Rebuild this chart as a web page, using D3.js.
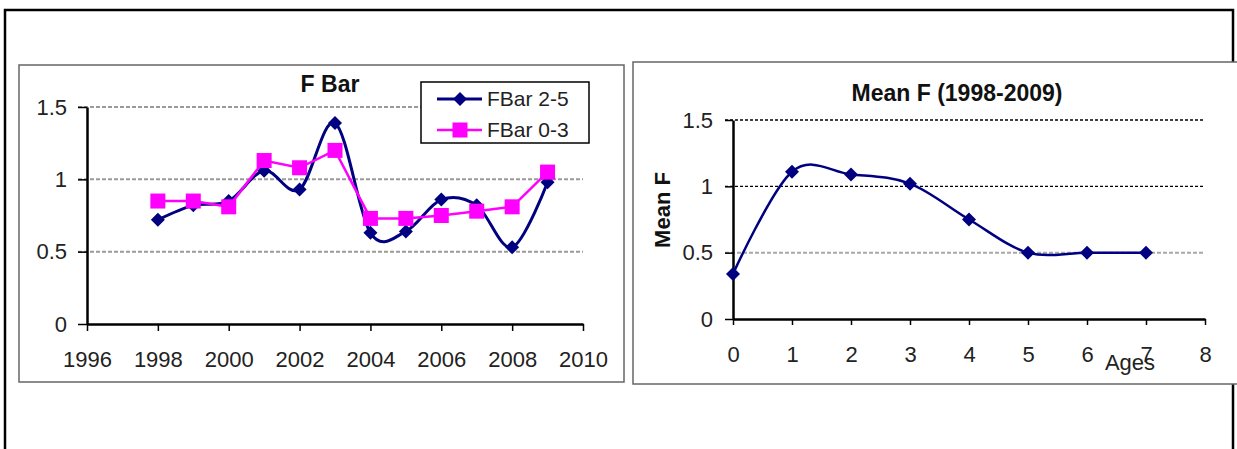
<!DOCTYPE html>
<html lang="en">
<head>
	<meta charset="UTF-8">
	<title>F Bar / Mean F</title>
	<script src="https://cdn.jsdelivr.net/npm/d3@7/dist/d3.min.js"></script>
	<style>
		html,body{
			margin:0;
			padding:0;
			background:#fff;
		}
		svg{
			display:block;
			font-family:"Liberation Sans", Arial, sans-serif;
		}
		.tick text{
			font-size:22px;
			fill:#222;
		}
		.domain{
			stroke:#000;
			stroke-width:2.5;
		}
		.tick line{
			stroke:#000;
			stroke-width:1.5;
		}
	</style>
</head>
<body>
	<svg id="svg" width="1237" height="449"></svg>
	<script>
		// values
		var years = [1998, 1999, 2000, 2001, 2002, 2003, 2004, 2005, 2006, 2007, 2008, 2009];
		var fbar25 = [0.72, 0.82, 0.85, 1.06, 0.93, 1.39, 0.63, 0.64, 0.86, 0.82, 0.53, 0.98];
		var fbar03 = [0.85, 0.85, 0.81, 1.13, 1.08, 1.20, 0.73, 0.73, 0.75, 0.78, 0.81, 1.05];
		var yearTicks = [1996, 1998, 2000, 2002, 2004, 2006, 2008, 2010];

		var ages = [0, 1, 2, 3, 4, 5, 6, 7];
		var meanF = [0.34, 1.11, 1.09, 1.02, 0.75, 0.50, 0.50, 0.50];
		var ageTicks = [0, 1, 2, 3, 4, 5, 6, 7, 8];

		var fTicks = [0, 0.5, 1, 1.5];
		var legendNames = ["FBar 2-5", "FBar 0-3"];

		window.onload = ()=>{
			var svg = d3.select("svg");
			var navy = "#000080", pink = "#ff00ff";
			var diamond = "M0,-7L7,0L0,7L-7,0Z";

			// outer frame and the two chart boxes
			svg.append("rect")
				.attr("x",5).attr("y",10).attr("width",1228).attr("height",460)
				.attr("fill","none").attr("stroke","#000").attr("stroke-width",2.5);
			svg.append("rect")
				.attr("x",19).attr("y",65).attr("width",605).attr("height",317)
				.attr("fill","#fff").attr("stroke","#666").attr("stroke-width",1.5);
			svg.append("rect")
				.attr("x",633).attr("y",62).attr("width",620).attr("height",322)
				.attr("fill","#fff").attr("stroke","#666").attr("stroke-width",1.5);

			/* ---------- left: F Bar ---------- */
			var x1 = d3.scaleLinear().domain([1996,2010]).range([87,583]),
				y1 = d3.scaleLinear().domain([0,1.5]).range([324,107]);

			var g1 = svg.append("g");

			g1.selectAll(".grid")
				.data(fTicks.filter(d=>d>0))
				.enter().append("line")
				.attr("x1",78).attr("x2",583)
				.attr("y1",d=>y1(d)).attr("y2",d=>y1(d))
				.attr("stroke","#9a9a9a").attr("stroke-width",2)
				.attr("stroke-dasharray","4,2");

			g1.append("g")
				.attr("transform","translate(0,324)")
				.call(d3.axisBottom(x1).tickValues(yearTicks).tickFormat(d3.format("d")).tickSize(7).tickPadding(20).tickSizeOuter(0));
			g1.append("g")
				.attr("transform","translate(87,0)")
				.call(d3.axisLeft(y1).tickValues(fTicks).tickFormat(d=>d).tickSize(9).tickPadding(11).tickSizeOuter(0))
				.selectAll(".tick line")
				.attr("stroke",d=>d>0?"#9a9a9a":"#000");

			var line25 = d3.line()
				.x((d,i)=>x1(years[i]))
				.y(d=>y1(d))
				.curve(d3.curveCardinal.tension(0));
			var line03 = d3.line()
				.x((d,i)=>x1(years[i]))
				.y(d=>y1(d));

			g1.append("path")
				.attr("d",line25(fbar25))
				.attr("fill","none").attr("stroke",navy).attr("stroke-width",3);
			g1.selectAll(".m25")
				.data(fbar25)
				.enter().append("path")
				.attr("d",diamond)
				.attr("fill",navy)
				.attr("transform",(d,i)=>"translate("+x1(years[i])+","+y1(d)+")");

			g1.append("path")
				.attr("d",line03(fbar03))
				.attr("fill","none").attr("stroke",pink).attr("stroke-width",2.5);
			g1.selectAll(".m03")
				.data(fbar03)
				.enter().append("rect")
				.attr("x",(d,i)=>x1(years[i])-7.5)
				.attr("y",d=>y1(d)-7.5)
				.attr("width",15).attr("height",15)
				.attr("fill",pink);

			g1.append("text")
				.attr("x",330).attr("y",92)
				.attr("text-anchor","middle")
				.attr("font-size",23).attr("font-weight","bold").attr("fill","#111")
				.text("F Bar");

			// legend
			var lg = g1.append("g");
			lg.append("rect")
				.attr("x",421).attr("y",82).attr("width",168).attr("height",61)
				.attr("fill","#fff").attr("stroke","#000").attr("stroke-width",1.5);
			var items = lg.selectAll(".item")
				.data(legendNames)
				.enter().append("g")
				.attr("transform",(d,i)=>"translate(0,"+(99+i*31)+")");
			items.append("line")
				.attr("x1",437).attr("x2",482)
				.attr("stroke",(d,i)=>i==0?navy:pink)
				.attr("stroke-width",(d,i)=>i==0?3:2.5);
			items.filter((d,i)=>i==0).append("path")
				.attr("d",diamond)
				.attr("fill",navy)
				.attr("transform","translate(460,0)");
			items.filter((d,i)=>i==1).append("rect")
				.attr("x",452.5).attr("y",-7.5).attr("width",15).attr("height",15)
				.attr("fill",pink);
			items.append("text")
				.attr("x",487).attr("dy","0.35em")
				.attr("font-size",21).attr("fill","#222")
				.text(d=>d);

			/* ---------- right: Mean F ---------- */
			var x2 = d3.scaleLinear().domain([0,8]).range([733,1205]),
				y2 = d3.scaleLinear().domain([0,1.5]).range([319,120]);

			var g2 = svg.append("g");

			g2.selectAll(".grid")
				.data(fTicks.filter(d=>d>0))
				.enter().append("line")
				.attr("x1",725).attr("x2",1205)
				.attr("y1",d=>y2(d)).attr("y2",d=>y2(d))
				.attr("stroke",d=>d==0.5?"#a8a8a8":"#000")
				.attr("stroke-width",d=>d==0.5?2:1.3)
				.attr("stroke-dasharray",d=>d==0.5?"4,2":"3,2");

			g2.append("g")
				.attr("transform","translate(0,319)")
				.call(d3.axisBottom(x2).tickValues(ageTicks).tickFormat(d3.format("d")).tickSize(6).tickPadding(21).tickSizeOuter(0));
			g2.append("g")
				.attr("transform","translate(733,0)")
				.call(d3.axisLeft(y2).tickValues(fTicks).tickFormat(d=>d).tickSize(8).tickPadding(12).tickSizeOuter(0))
				.selectAll(".tick line")
				.attr("stroke",d=>d==0.5?"#a8a8a8":"#000");

			var lineF = d3.line()
				.x((d,i)=>x2(ages[i]))
				.y(d=>y2(d))
				.curve(d3.curveCardinal.tension(0));
			g2.append("path")
				.attr("d",lineF(meanF))
				.attr("fill","none").attr("stroke",navy).attr("stroke-width",2.5);
			g2.selectAll(".mf")
				.data(meanF)
				.enter().append("path")
				.attr("d",diamond)
				.attr("fill",navy)
				.attr("transform",(d,i)=>"translate("+x2(ages[i])+","+y2(d)+")");

			g2.append("text")
				.attr("x",957).attr("y",101)
				.attr("text-anchor","middle")
				.attr("font-size",23).attr("font-weight","bold").attr("fill","#111")
				.text("Mean F (1998-2009)");
			g2.append("text")
				.attr("transform","translate(670,210) rotate(-90)")
				.attr("text-anchor","middle")
				.attr("font-size",22).attr("font-weight","bold").attr("fill","#111")
				.text("Mean F");
			// sits over the "7" label, as in the original
			g2.append("text")
				.attr("x",1130).attr("y",370)
				.attr("text-anchor","middle")
				.attr("font-size",22).attr("fill","#222")
				.text("Ages");
		}
	</script>
</body>
</html>
